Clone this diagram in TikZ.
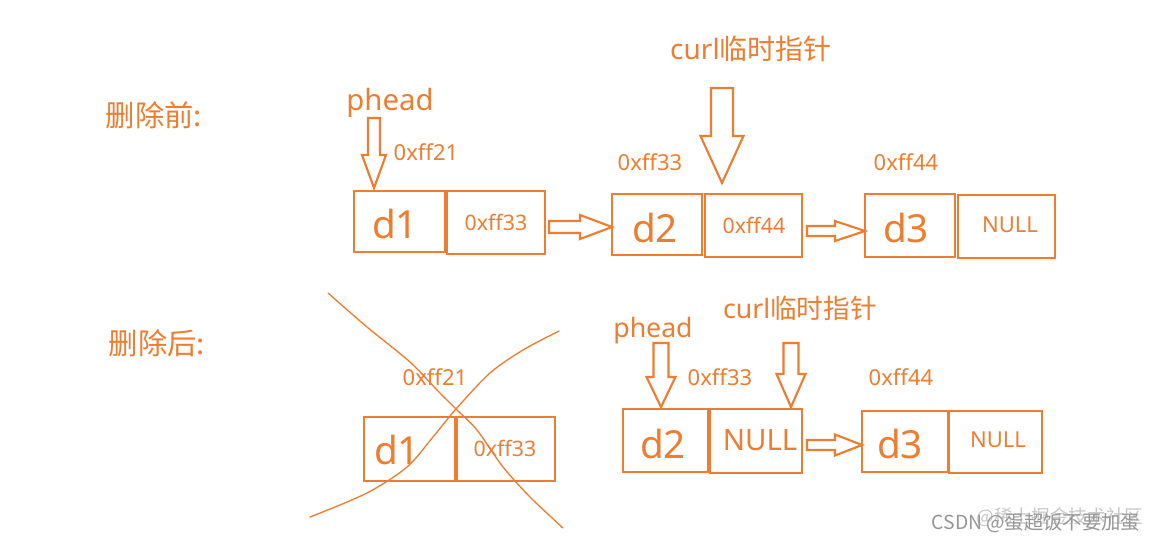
\documentclass[tikz,border=0pt]{standalone}
\usepackage{fontspec}
\setmainfont{Noto Sans}
\newfontfamily\cjk{Noto Sans CJK SC}
\usetikzlibrary{calc}
\definecolor{org}{RGB}{237,125,49}
\definecolor{wmA}{RGB}{150,150,150}
\definecolor{wmB}{RGB}{200,200,200}
\newcommand\fsz[1]{\fontsize{#1}{#1}\selectfont}
% box from pixel corners
\newcommand\pbox[5]{\node[box,minimum width={(#4-#2)*0.75pt},minimum height={(#5-#3)*0.75pt}] (#1) at ({(#2+#4)/2},{(#3+#5)/2}) {};}
% horizontal block arrow: name, start coord, end anchor, shaft half, head half, head length
\newcommand\harrow[6]{%
  \coordinate (#1e) at (#3 |- #2);
  \draw[arr] ($(#2)+(0,-#4)$) -- ($(#1e)+(-#6,-#4)$) -- ($(#1e)+(-#6,-#5)$) -- (#1e)
    -- ($(#1e)+(-#6,#5)$) -- ($(#1e)+(-#6,#4)$) -- ($(#2)+(0,#4)$) -- cycle;}
% vertical block arrow: tip, length, shaft half, head half, head length
\newcommand\varrow[5]{%
  \draw[arr] (#1) -- ($(#1)+(-#4,-#5)$) -- ($(#1)+(-#3,-#5)$) -- ($(#1)+(-#3,-#2)$)
    -- ($(#1)+(#3,-#2)$) -- ($(#1)+(#3,-#5)$) -- ($(#1)+(#4,-#5)$) -- cycle;}
\begin{document}
\begin{tikzpicture}[x=0.75pt,y=-0.75pt,
  box/.style={draw=org,line width=2.1pt,inner sep=0pt,outer sep=0pt},
  txt/.style={text=org,inner sep=0pt,anchor=base},
  ctxt/.style={text=org,inner sep=0pt,anchor=center},
  arr/.style={draw=org,line width=1.6pt,line join=miter,fill=white},
  cross/.style={draw=org,line width=1pt,line cap=round}]
\useasboundingbox[fill=white] (0,0) rectangle (1157,543);

% ---------- section titles ----------
\node[ctxt,font=\cjk\fsz{22pt}] (tbefore) at (154,115) {删除前:};
\node[ctxt,font=\cjk\fsz{22pt}] (tafter) at (157,343) {删除后:};

% ---------- before: boxes ----------
\pbox{b1}{354}{191}{445}{252}
\pbox{b1n}{447}{191}{545}{254}
\pbox{b2}{612}{194}{702}{255}
\pbox{b2n}{705}{194}{802}{257}
\pbox{b3}{865}{194}{955}{257}
\pbox{b3n}{958}{195}{1055}{258}

\node[txt,font=\fsz{29pt}] (b1t) at (395,238) {d1};
\node[txt,font=\fsz{16pt}] (b1nt) at (496,230) {0xff33};
\node[txt,font=\fsz{29pt}] (b2t) at (655,242) {d2};
\node[txt,font=\fsz{16pt}] (b2nt) at (754,233) {0xff44};
\node[txt,font=\fsz{29pt}] (b3t) at (906,242) {d3};
\node[txt,font=\fsz{16.5pt}] (b3nt) at (1010,232) {NULL};

\node[txt,font=\fsz{16.5pt}] (ba1) at (426,160) {0xff21};
\node[txt,font=\fsz{16.5pt}] (ba2) at (650,170) {0xff33};
\node[txt,font=\fsz{16.5pt}] (ba3) at (906,170) {0xff44};

\node[txt,font=\fsz{22pt}] (bphead) at (390,110) {phead};
\node[txt,font=\fsz{21pt}] (bcur) at (751,59) {curl{\cjk 临时指针}};

\coordinate (bpt) at (374,188);
\varrow{bpt}{70}{6}{12}{33}
\coordinate (bct) at (722,183);
\varrow{bct}{95}{11}{21.5}{47}

\coordinate (ha1) at (549,227);
\harrow{ha1}{ha1}{b2.west}{6}{12}{32}
\coordinate (ha2) at (807,231);
\harrow{ha2}{ha2}{b3.west}{5}{10}{30}

% ---------- after: deleted node ----------
\pbox{a1}{364}{417}{455}{481}
\pbox{a1n}{457}{417}{555}{481}
\node[txt,font=\fsz{29pt}] (a1t) at (397,464) {d1};
\node[txt,font=\fsz{16pt}] (a1nt) at (505,456) {0xff33};
\node[txt,font=\fsz{16.5pt}] (aa1) at (435,385) {0xff21};

\draw[cross] plot[smooth] coordinates {(328,293) (367,327) (410,362) (437,390) (456,409) (477,430) (503,467) (530,497) (563,528)};
\draw[cross] plot[smooth] coordinates {(559,331) (523,350) (490,373) (456,409) (433,437) (407,467) (367,493) (310,517)};

% ---------- after: remaining list ----------
\pbox{a2}{623}{409}{708}{472}
\pbox{a2n}{710}{409}{802}{473}
\pbox{a3}{862}{411}{948}{472}
\pbox{a3n}{949}{411}{1042}{473}

\node[txt,font=\fsz{29pt}] (a2t) at (663,458) {d2};
\node[txt,font=\fsz{22pt}] (a2nt) at (760,450) {NULL};
\node[txt,font=\fsz{29pt}] (a3t) at (900,458) {d3};
\node[txt,font=\fsz{16.5pt}] (a3nt) at (998,447) {NULL};

\node[txt,font=\fsz{16.5pt}] (aa2) at (720,385) {0xff33};
\node[txt,font=\fsz{16.5pt}] (aa3) at (901,385) {0xff44};

\node[txt,font=\fsz{20pt}] (aphead) at (653,337) {phead};
\node[txt,font=\fsz{20pt}] (acur) at (800,318) {curl{\cjk 临时指针}};

\coordinate (apt) at (661,407);
\varrow{apt}{64}{7.5}{14.5}{30}
\coordinate (act) at (791,407);
\varrow{act}{64}{7.5}{14.5}{33}

\coordinate (ha3) at (807,445);
\harrow{ha3}{ha3}{a3.west}{5}{10.5}{27}

% ---------- watermark ----------
\node[ctxt,text=wmB,font=\cjk\fsz{14pt}] (wm1) at (1060,517) {@稀土掘金技术社区};
\node[ctxt,text=wmA,font=\cjk\fsz{14.5pt}] (wm2) at (1036,523) {CSDN @蛋超饭不要加蛋};
\end{tikzpicture}
\end{document}
